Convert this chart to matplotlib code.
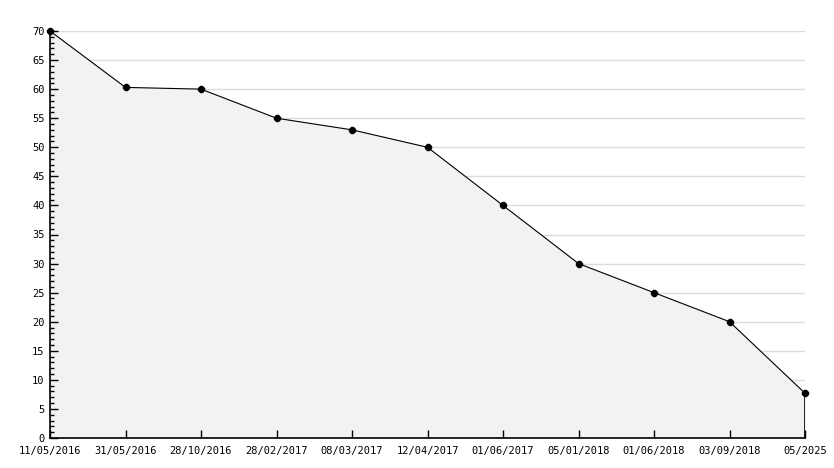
import numpy as np
import matplotlib.pyplot as plt

dates = ["11/05/2016", "31/05/2016", "28/10/2016", "28/02/2017", "08/03/2017",
         "12/04/2017", "01/06/2017", "05/01/2018", "01/06/2018", "03/09/2018", "05/2025"]
values = [70, 60.3, 60, 55, 53, 50, 40, 30, 25, 20, 7.7]

fig = plt.figure(figsize=(8.34, 4.68), dpi=100)
ax = fig.add_axes([50 / 834, 30 / 468, 755 / 834, 407 / 468])

x = np.arange(len(dates))
ax.set_xlim(0, len(dates) - 1)
ax.set_ylim(0, 70)

# grid lines every 5
for v in range(5, 71, 5):
    ax.axhline(v, color="#dcdcdc", lw=1, zorder=0)

ax.fill_between(x, values, 0, color="#f2f2f2", zorder=1)
ax.plot(x, values, color="black", lw=0.8, zorder=3)
ax.plot([x[-1], x[-1]], [0, values[-1]], color="black", lw=1.2, zorder=3)
ax.plot(x, values, ls="none", marker="8", ms=4.5, color="black", zorder=4, clip_on=False)

for s in ["top", "right"]:
    ax.spines[s].set_visible(False)
for s in ["left", "bottom"]:
    ax.spines[s].set_linewidth(1.2)
    ax.spines[s].set_zorder(5)

ax.set_xticks(x)
ax.set_xticklabels(dates)
ax.set_yticks(range(0, 71, 5))
ax.set_yticks(range(0, 71, 1), minor=True)
ax.tick_params(axis="both", which="major", direction="in", length=6, width=1,
               labelsize=7.5, colors="black")
ax.tick_params(axis="y", which="minor", direction="in", length=3, width=1)
ax.tick_params(axis="y", pad=4)
ax.tick_params(axis="x", pad=6)
for lab in ax.get_xticklabels() + ax.get_yticklabels():
    lab.set_family("DejaVu Sans Mono")

fig.savefig("out.png", dpi=100)
